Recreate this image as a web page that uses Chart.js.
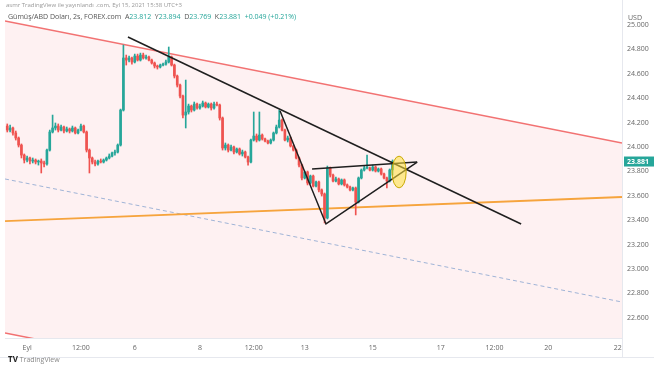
<!DOCTYPE html>
<html>
<head>
<meta charset="utf-8">
<script src="https://cdn.jsdelivr.net/npm/chart.js@4.4.0/dist/chart.umd.min.js"></script>
<style>
  body { margin: 0; background: #fff; font-family: 'Open Sans', Roboto, sans-serif; }
  #wrap { position: relative; width: 654px; height: 366px; }
  .txt { position: absolute; white-space: nowrap; font-size: 7px; color: #777; line-height: 9px; }
  .up { color: #26a69a; }
  #axisbox { position: absolute; left: 622px; top: 0; width: 0; height: 358px; border-left: 1px solid #e6e8ee; }
  #axisrow { position: absolute; left: 0; top: 357px; width: 654px; height: 0; border-top: 1px solid #e6e8ee; }
</style>
</head>
<body>
<div id="wrap">
  <canvas id="chart" width="654" height="366"></canvas>
  <div id="axisbox"></div>
  <div id="axisrow"></div>
  <div class="txt" style="left:6px; top:1px; font-size:6px; color:#999;">asmr TradingView ile yayınlandı .com, Eyl 15, 2021 15:38 UTC+3</div>
  <div class="txt" style="left:8px; top:12px; color:#555;">Gümüş/ABD Doları, 2s, FOREX.com &nbsp;A<span class="up">23.812</span> &nbsp;Y<span class="up">23.894</span> &nbsp;D<span class="up">23.769</span> &nbsp;K<span class="up">23.881</span> &nbsp;<span class="up">+0.049 (+0.21%)</span></div>
  <div class="txt" style="left:628px; top:13px; color:#666;">USD</div>
  <div class="txt" style="left:8px; top:354px; color:#888;"><b style="color:#222; font-size:8px;">TV</b> TradingView</div>
</div>
<script>
// 2h bars, index 0 = Eyl 1 00:00 (weekends skipped)
const firstBar = -7;
const opens = [
  24.172, 24.139, 24.156, 24.115, 24.074, 24.016, 23.934, 23.893, 23.910, 23.885,
  23.893, 23.877, 23.885, 23.869, 23.861, 23.975, 24.123, 24.156, 24.172, 24.139,
  24.164, 24.131, 24.148, 24.131, 24.156, 24.115, 24.139, 24.172, 24.123, 23.975,
  23.910, 23.877, 23.861, 23.885, 23.877, 23.893, 23.910, 23.926, 23.951, 23.959,
  24.016, 24.303, 24.730, 24.713, 24.730, 24.697, 24.746, 24.713, 24.754, 24.730,
  24.738, 24.713, 24.689, 24.664, 24.656, 24.672, 24.680, 24.697, 24.738, 24.672,
  24.582, 24.508, 24.418, 24.262, 24.287, 24.336, 24.303, 24.352, 24.320, 24.336,
  24.361, 24.328, 24.352, 24.320, 24.352, 24.344, 24.238, 23.992, 24.016, 23.975,
  24.000, 23.959, 23.984, 23.943, 23.959, 23.918, 23.877, 24.057, 24.090, 24.057,
  24.098, 24.066, 24.049, 24.033, 24.057, 24.115, 24.164, 24.221, 24.139, 24.057,
  24.074, 24.008, 23.975, 23.910, 23.852, 23.746, 23.795, 23.705, 23.762, 23.680,
  23.713, 23.648, 23.615, 23.418, 23.828, 23.770, 23.721, 23.738, 23.697, 23.730,
  23.689, 23.672, 23.648, 23.664, 23.549, 23.746, 23.811, 23.828, 23.828, 23.811,
  23.836, 23.803, 23.820, 23.779, 23.746, 23.721, 23.812
];
const closes = [
  24.139, 24.156, 24.115, 24.074, 24.016, 23.934, 23.893, 23.910, 23.885, 23.893,
  23.877, 23.885, 23.869, 23.861, 23.975, 24.123, 24.156, 24.172, 24.139, 24.164,
  24.131, 24.148, 24.131, 24.156, 24.115, 24.139, 24.172, 24.123, 23.975, 23.910,
  23.877, 23.861, 23.885, 23.877, 23.893, 23.910, 23.926, 23.951, 23.959, 24.016,
  24.303, 24.730, 24.713, 24.730, 24.697, 24.746, 24.713, 24.754, 24.730, 24.738,
  24.713, 24.689, 24.664, 24.656, 24.672, 24.680, 24.697, 24.738, 24.672, 24.582,
  24.508, 24.418, 24.262, 24.287, 24.336, 24.303, 24.352, 24.320, 24.336, 24.361,
  24.328, 24.352, 24.320, 24.352, 24.344, 24.238, 23.992, 24.016, 23.975, 24.000,
  23.959, 23.984, 23.943, 23.959, 23.918, 23.877, 24.057, 24.090, 24.057, 24.098,
  24.066, 24.049, 24.033, 24.057, 24.115, 24.164, 24.221, 24.139, 24.057, 24.074,
  24.008, 23.975, 23.910, 23.852, 23.746, 23.795, 23.705, 23.762, 23.680, 23.713,
  23.648, 23.615, 23.418, 23.828, 23.770, 23.721, 23.738, 23.697, 23.730, 23.689,
  23.672, 23.648, 23.664, 23.549, 23.746, 23.811, 23.828, 23.828, 23.811, 23.836,
  23.803, 23.820, 23.779, 23.746, 23.721, 23.812, 23.881
];
const highs = [
  24.189, 24.180, 24.164, 24.131, 24.082, 24.025, 23.943, 23.926, 23.918, 23.910,
  23.902, 23.893, 23.902, 23.885, 23.984, 24.139, 24.262, 24.197, 24.189, 24.180,
  24.172, 24.164, 24.156, 24.172, 24.164, 24.148, 24.189, 24.180, 24.131, 23.984,
  23.918, 23.893, 23.893, 23.902, 23.902, 23.918, 23.943, 23.959, 23.975, 24.025,
  24.311, 24.836, 24.754, 24.746, 24.738, 24.762, 24.762, 24.770, 24.770, 24.754,
  24.746, 24.721, 24.697, 24.672, 24.680, 24.689, 24.713, 24.820, 24.746, 24.680,
  24.590, 24.516, 24.426, 24.549, 24.352, 24.344, 24.369, 24.361, 24.352, 24.377,
  24.369, 24.361, 24.361, 24.369, 24.369, 24.352, 24.246, 24.033, 24.025, 24.016,
  24.008, 23.992, 23.992, 23.975, 23.967, 23.926, 24.066, 24.287, 24.107, 24.287,
  24.107, 24.074, 24.057, 24.066, 24.123, 24.180, 24.303, 24.230, 24.148, 24.090,
  24.082, 24.016, 23.984, 23.918, 23.861, 23.803, 23.803, 23.770, 23.770, 23.721,
  23.721, 23.656, 23.623, 23.844, 23.836, 23.779, 23.754, 23.746, 23.738, 23.738,
  23.697, 23.680, 23.672, 23.672, 23.754, 23.820, 23.844, 23.934, 23.836, 23.852,
  23.844, 23.828, 23.828, 23.787, 23.754, 23.820, 23.894
];
const lows = [
  24.123, 24.123, 24.098, 24.057, 24.000, 23.910, 23.869, 23.877, 23.861, 23.869,
  23.861, 23.852, 23.787, 23.836, 23.852, 23.967, 24.115, 24.139, 24.123, 24.131,
  24.115, 24.123, 24.115, 24.123, 24.107, 24.107, 24.131, 24.115, 23.959, 23.787,
  23.861, 23.844, 23.852, 23.869, 23.869, 23.885, 23.902, 23.918, 23.934, 23.951,
  24.008, 24.295, 24.672, 24.697, 24.680, 24.689, 24.705, 24.705, 24.721, 24.721,
  24.705, 24.680, 24.648, 24.639, 24.648, 24.664, 24.672, 24.689, 24.664, 24.566,
  24.492, 24.402, 24.238, 24.156, 24.270, 24.287, 24.295, 24.311, 24.311, 24.328,
  24.320, 24.320, 24.303, 24.311, 24.336, 24.221, 23.975, 23.975, 23.959, 23.967,
  23.943, 23.951, 23.934, 23.926, 23.910, 23.852, 23.869, 24.049, 24.041, 24.049,
  24.057, 24.041, 24.025, 24.025, 24.049, 24.107, 24.156, 24.131, 24.049, 24.041,
  24.000, 23.967, 23.902, 23.836, 23.730, 23.738, 23.689, 23.697, 23.672, 23.672,
  23.631, 23.598, 23.377, 23.410, 23.754, 23.713, 23.713, 23.689, 23.689, 23.680,
  23.664, 23.639, 23.639, 23.443, 23.541, 23.738, 23.803, 23.820, 23.803, 23.803,
  23.795, 23.795, 23.770, 23.738, 23.664, 23.713, 23.769
];

const tickBars = [0, 19, 38, 61, 80, 98, 122, 146, 165, 184, 208.5];
const tickLabels = ['Eyl', '12:00', '6', '8', '12:00', '13', '15', '17', '12:00', '20', '22'];
const priceTicks = [22.6, 22.8, 23.0, 23.2, 23.4, 23.6, 23.8, 24.0, 24.2, 24.4, 24.6, 24.8, 25.0];

// drawings, [bar, price] pairs
const channelTop = [[-7.8, 25.033], [210, 24.033]];
const channelMid = [[-7.8, 23.738], [210, 22.729]];
const channelLow = [[-7.8, 22.475], [210, 21.475]];
const supportLine = [[-7.8, 23.393], [210, 23.590]];
const trendLine = [[35.6, 24.902], [174.4, 23.369]];
const triangle = [[89.3, 24.295], [105.5, 23.369], [137.7, 23.877], [100.6, 23.820]];
const highlight = { x: 131.3, y: 23.795, rx: 2.5, ry: 0.13 };

const UP = '#26a69a', DOWN = '#ef5350';
const bars = opens.map((_, i) => firstBar + i);
const colors = closes.map((c, i) => c >= opens[i] ? UP : DOWN);
const pts = arr => arr.map(p => ({ x: p[0], y: p[1] }));

const line = (data, color, extra) => Object.assign({
  type: 'line', data: pts(data), borderColor: color, borderWidth: 1.5,
  pointRadius: 0, fill: false, tension: 0, order: 1
}, extra || {});

const ellipsePlugin = {
  id: 'ellipse',
  afterDatasetsDraw(chart) {
    const { ctx, scales: { x, y } } = chart;
    const cx = x.getPixelForValue(highlight.x), cy = y.getPixelForValue(highlight.y);
    const rx = Math.abs(x.getPixelForValue(highlight.x + highlight.rx) - cx);
    const ry = Math.abs(y.getPixelForValue(highlight.y + highlight.ry) - cy);
    ctx.save();
    ctx.beginPath();
    ctx.ellipse(cx, cy, rx, ry, 0, 0, Math.PI * 2);
    ctx.fillStyle = 'rgba(255, 226, 60, 0.55)';
    ctx.fill();
    ctx.strokeStyle = '#c8a800';
    ctx.lineWidth = 1;
    ctx.stroke();
    // last price tag
    const last = closes[closes.length - 1];
    const py = y.getPixelForValue(last);
    ctx.fillStyle = UP;
    ctx.fillRect(x.right + 2, py - 5, 30, 10);
    ctx.fillStyle = '#fff';
    ctx.font = 'bold 7px "Open Sans", sans-serif';
    ctx.textBaseline = 'middle';
    ctx.fillText(last.toFixed(3), x.right + 5, py + 0.5);
    ctx.restore();
  }
};

new Chart(document.getElementById('chart'), {
  type: 'bar',
  data: {
    datasets: [
      line(channelTop, 'rgba(240, 90, 90, 0.85)', { fill: '+1', backgroundColor: 'rgba(242, 54, 69, 0.07)', order: 10 }),
      line(channelLow, 'rgba(240, 90, 90, 0.85)', { order: 10 }),
      line(channelMid, '#9fb3d6', { borderWidth: 1, borderDash: [4, 3], order: 9 }),
      line(supportLine, '#f6a43d', { borderWidth: 1.8, order: 8 }),
      {
        type: 'bar', data: bars.map((b, i) => ({ x: b, y: [lows[i], highs[i]] })),
        backgroundColor: colors, barThickness: 1, grouped: false, order: 5
      },
      {
        type: 'bar', data: bars.map((b, i) => ({ x: b, y: [Math.min(opens[i], closes[i]), Math.max(opens[i], closes[i])] })),
        backgroundColor: colors, barThickness: 2, grouped: false, minBarLength: 1, order: 4
      },
      line(trendLine, '#1f1f1f'),
      line(triangle.slice(0, 3), '#1f1f1f'),
      line([triangle[3], triangle[2]], '#1f1f1f')
    ]
  },
  options: {
    responsive: false,
    animation: false,
    layout: { padding: { left: 5, top: 12, bottom: 10, right: 0 } },
    plugins: { legend: { display: false }, tooltip: { enabled: false } },
    scales: {
      x: {
        type: 'linear', min: -7.8, max: 210, offset: false,
        grid: { drawOnChartArea: false, drawTicks: false },
        border: { color: '#e6e8ee' },
        afterBuildTicks: s => { s.ticks = tickBars.map(v => ({ value: v })); },
        afterFit: s => { s.height = 18; },
        ticks: {
          autoSkip: false, maxRotation: 0, padding: 6, color: '#666',
          font: { size: 7, family: 'Open Sans' },
          callback: (v) => tickLabels[tickBars.indexOf(v)]
        }
      },
      y: {
        position: 'right', min: 22.434, max: 25.107,
        grid: { drawOnChartArea: false, drawTicks: false },
        border: { color: '#e6e8ee' },
        afterBuildTicks: s => { s.ticks = priceTicks.map(v => ({ value: v })); },
        afterFit: s => { s.width = 32; },
        ticks: {
          padding: 5, color: '#666', font: { size: 7, family: 'Open Sans' },
          callback: v => v.toFixed(3)
        }
      }
    }
  },
  plugins: [ellipsePlugin]
});
</script>
</body>
</html>
